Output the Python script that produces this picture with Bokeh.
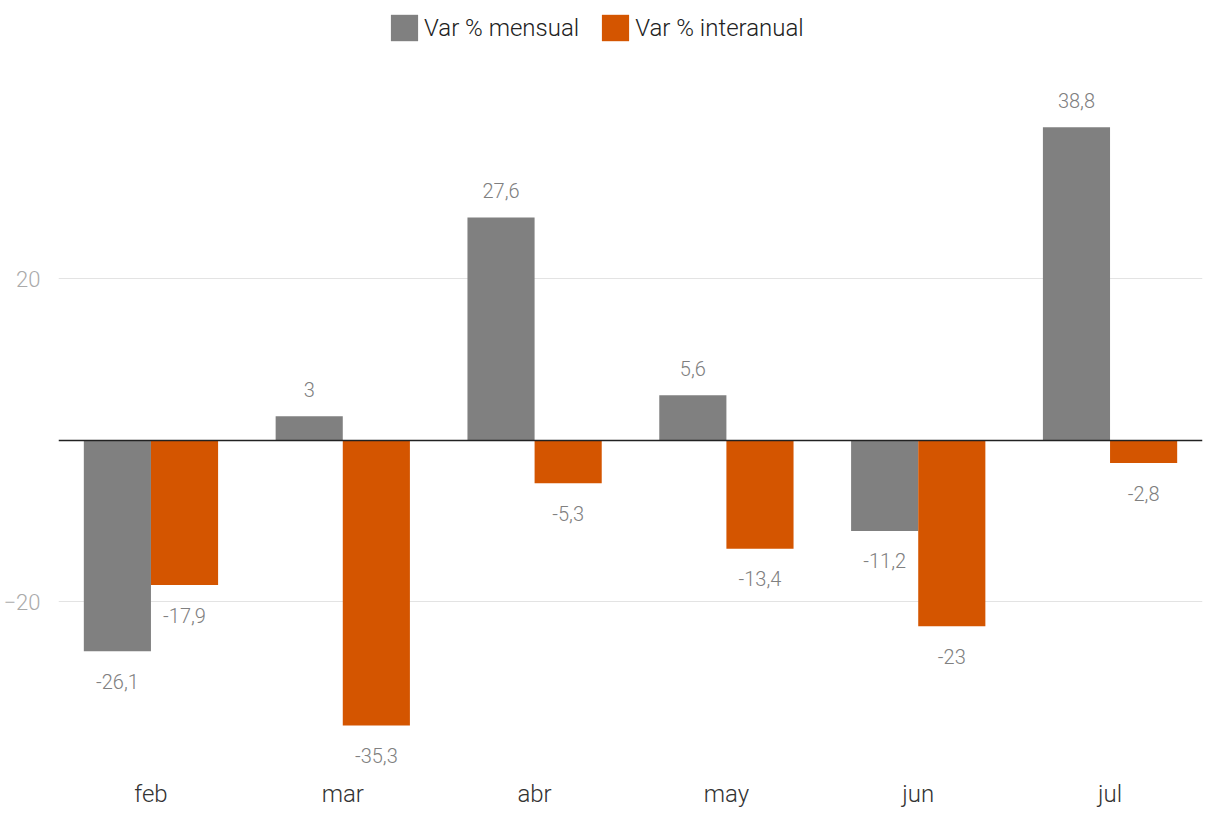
from bokeh.plotting import figure
from bokeh.models import ColumnDataSource, FactorRange, FixedTicker, Span, Legend, LegendItem
from bokeh.transform import dodge
from bokeh.core.properties import value
from bokeh.embed import file_html
from bokeh.resources import INLINE

months = ["feb", "mar", "abr", "may", "jun", "jul"]
mensual = [-26.1, 3, 27.6, 5.6, -11.2, 38.8]
interanual = [-17.9, -35.3, -5.3, -13.4, -23, -2.8]
series_names = ["Var % mensual", "Var % interanual"]
colors = ["#808080", "#d45500"]
y_ticks = [-20, 20]

def fmt(v):
    return ("%g" % v).replace(".", ",")

src = ColumnDataSource(dict(
    m=months, a=mensual, b=interanual,
    a_lab=[fmt(v) for v in mensual], b_lab=[fmt(v) for v in interanual],
    a_off=[-27 if v >= 0 else 30 for v in mensual],
    b_off=[-27 if v >= 0 else 30 for v in interanual],
))

xr = FactorRange(*months, range_padding=-0.018, range_padding_units="absolute")
p = figure(x_range=xr, y_range=(-40.62, 53.99),
           width=1204, height=814, output_backend="svg", toolbar_location=None,
           min_border_left=55, min_border_right=2, min_border_top=4, min_border_bottom=46)
p.outline_line_color = None
p.background_fill_color = "white"

r1 = p.vbar(x=dodge("m", -0.175, range=p.x_range), top="a", bottom=0, width=0.35,
            source=src, color=colors[0], line_color=None)
r2 = p.vbar(x=dodge("m", 0.175, range=p.x_range), top="b", bottom=0, width=0.35,
            source=src, color=colors[1], line_color=None)

for col, lab, off, dx in [("a", "a_lab", "a_off", -0.175), ("b", "b_lab", "b_off", 0.175)]:
    p.text(x=dodge("m", dx, range=p.x_range), y=col, text=lab, source=src,
           y_offset=off, text_align="center", text_baseline="middle",
           text_font=value("Roboto Light"), text_font_style="normal",
           text_font_size="20px", text_color="#808080")

p.add_layout(Span(location=0, dimension="width", line_color="#222222", line_width=1.5))

p.xgrid.grid_line_color = None
p.ygrid.grid_line_color = "#e3e3e3"
p.ygrid.grid_line_width = 1
p.yaxis.ticker = FixedTicker(ticks=y_ticks)
p.yaxis.axis_line_color = None
p.yaxis.major_tick_line_color = None
p.yaxis.minor_tick_line_color = None
p.yaxis.major_label_text_font = "Roboto Light"
p.yaxis.major_label_text_font_size = "22px"
p.yaxis.major_label_text_color = "#aaaaaa"
p.yaxis.major_label_standoff = 12

p.xaxis.axis_line_color = None
p.xaxis.major_tick_line_color = None
p.xaxis.minor_tick_line_color = None
p.xaxis.major_label_text_font = "Roboto Light"
p.xaxis.major_label_text_font_size = "24px"
p.xaxis.major_label_text_color = "#333333"
p.xaxis.major_label_standoff = 5

legend = Legend(items=[LegendItem(label=series_names[0], renderers=[r1]),
                       LegendItem(label=series_names[1], renderers=[r2])],
                orientation="horizontal", location=(329, 724),
                glyph_width=34, glyph_height=33, label_standoff=3, spacing=19,
                label_text_font="Roboto Light", label_text_font_size="24px",
                label_text_color="#222222", background_fill_alpha=0,
                border_line_color=None, margin=0, padding=0)
p.add_layout(legend)

open("out.html", "w").write(file_html(p, INLINE))
